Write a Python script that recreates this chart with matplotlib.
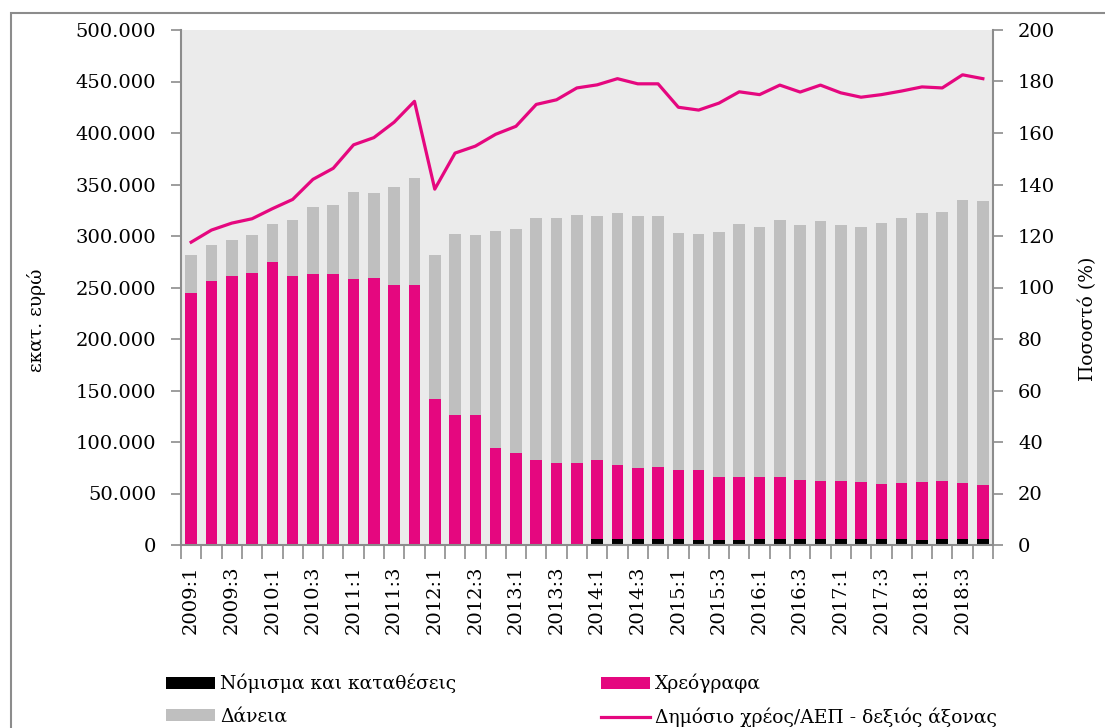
import numpy as np
import matplotlib.pyplot as plt
from matplotlib.patches import Rectangle
from matplotlib.ticker import FuncFormatter

# quarterly, 2009:1 - 2018:4 (million euro)
quarters = [f"{y}:{q}" for y in range(2009, 2019) for q in range(1, 5)]

currency = [0] * 20 + [
    5.4, 5.4, 5.7, 6.0, 5.4, 4.7, 4.7, 4.7, 5.4, 5.4,
    5.4, 5.4, 5.4, 5.4, 5.4, 5.4, 4.7, 5.4, 5.4, 5.4,
]
securities_top = [
    244.5, 256.2, 261.2, 263.9, 274.3, 261.2, 262.9, 262.9, 257.9, 259.2,
    252.5, 252.5, 142.0, 125.9, 125.9, 93.8, 89.8, 82.4, 79.7, 79.7,
    82.7, 77.7, 74.3, 75.4, 73.3, 73.0, 65.6, 65.6, 66.3, 65.6,
    63.0, 62.6, 62.0, 61.6, 58.9, 60.3, 61.6, 62.0, 59.9, 58.6,
]
total = [
    281.3, 291.4, 296.0, 300.7, 311.5, 315.5, 328.2, 330.2, 342.3, 341.9,
    348.0, 356.3, 281.3, 301.7, 301.1, 304.8, 306.4, 317.5, 317.8, 320.5,
    319.8, 322.2, 319.2, 319.5, 303.1, 301.7, 303.4, 311.8, 308.8, 315.1,
    311.1, 314.5, 310.5, 308.8, 313.1, 317.1, 322.5, 323.2, 335.2, 334.2,
]
debt_gdp = [
    117.6, 122.3, 125.0, 126.7, 130.6, 134.2, 142.0, 146.3, 155.4, 158.2,
    164.2, 172.3, 138.2, 152.2, 154.9, 159.5, 162.6, 171.1, 172.9, 177.5,
    178.7, 181.1, 179.1, 179.1, 170.0, 168.9, 171.6, 176.0, 174.9, 178.6,
    175.9, 178.6, 175.6, 173.9, 174.9, 176.3, 177.9, 177.5, 182.6, 181.1,
]

currency = np.array(currency) * 1000
securities = np.array(securities_top) * 1000 - currency
loans = (np.array(total) - np.array(securities_top)) * 1000

PINK = "#E5077F"
GREY = "#BFBFBF"
SPINE = "#8C8C8C"

plt.rcParams["font.family"] = ["DejaVu Serif"]

fig = plt.figure(figsize=(11.05, 7.28), dpi=100)
fig.patches.append(Rectangle((11 / 1105, -0.1), 1.2, 1 - 13 / 728 + 0.1,
                             transform=fig.transFigure, fill=False,
                             edgecolor=SPINE, linewidth=1.5))
ax = fig.add_axes([181 / 1105, 1 - 545 / 728, (993 - 181) / 1105, (545 - 30) / 728])
ax.set_facecolor("#EBEBEB")

x = np.arange(len(quarters))
w = 0.57
b1 = ax.bar(x, currency, w, color="black", label="Νόμισμα και καταθέσεις", zorder=2)
b2 = ax.bar(x, securities, w, bottom=currency, color=PINK, label="Χρεόγραφα", zorder=2)
b3 = ax.bar(x, loans, w, bottom=currency + securities, color=GREY, label="Δάνεια", zorder=2)

ax.set_xlim(-0.5, len(quarters) - 0.5)
ax.set_ylim(0, 500000)
ax.set_yticks(np.arange(0, 500001, 50000))
ax.yaxis.set_major_formatter(FuncFormatter(lambda v, p: f"{int(v):,}".replace(",", ".")))
ax.set_xticks(x[::2])
ax.set_xticklabels(quarters[::2], rotation=90)
ax.set_xticks(np.arange(-0.5, len(quarters)), minor=True)
ax.tick_params(axis="x", which="major", length=0, pad=15, labelsize=14)
ax.tick_params(axis="x", which="minor", length=10, width=1.2, color=SPINE)
ax.tick_params(axis="y", length=7, width=1.2, color=SPINE, labelsize=14, pad=11)
for side in ["top", "right"]:
    ax.spines[side].set_visible(False)
for side in ["left", "bottom"]:
    ax.spines[side].set_color(SPINE)
    ax.spines[side].set_linewidth(1.5)
ax.set_ylabel("εκατ. ευρώ", fontsize=13.5, ha="center", va="center")
ax.yaxis.set_label_coords((36 - 181) / 812, (545 - 320) / 515)

ax2 = ax.twinx()
ln, = ax2.plot(x, debt_gdp, color=PINK, linewidth=2.3, label="Δημόσιο χρέος/ΑΕΠ - δεξιός άξονας")
ax2.set_ylim(0, 200)
ax2.set_yticks(np.arange(0, 201, 20))
ax2.tick_params(axis="y", length=7, width=1.2, color=SPINE, labelsize=14, pad=11)
for side in ["top", "left", "bottom"]:
    ax2.spines[side].set_visible(False)
ax2.spines["right"].set_color(SPINE)
ax2.spines["right"].set_linewidth(1.5)
ax2.set_ylabel("Ποσοστό (%)", fontsize=13.5, ha="center", va="center")
ax2.yaxis.set_label_coords((1088 - 181) / 812, (545 - 319) / 515)

fig.legend(handles=[b1, b3, b2, ln], ncol=2, loc="upper left",
           bbox_to_anchor=(149 / 1105, 1 - 657 / 728), frameon=False,
           fontsize=13.5, handlelength=2.6, handleheight=0.65,
           handletextpad=0.3, columnspacing=7.7, labelspacing=0.75)

fig.savefig("out.png", dpi=100)
